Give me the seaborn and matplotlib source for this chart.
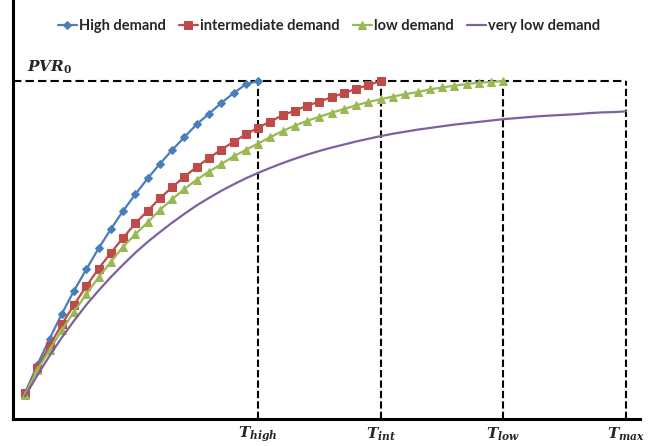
import numpy as np
import pandas as pd
import matplotlib
matplotlib.use("Agg")
import matplotlib.pyplot as plt
import seaborn as sns

# Present value of revenue (fraction of PVR_0) against period index
high_demand = [0.076, 0.160, 0.237, 0.311, 0.380, 0.443, 0.505, 0.562, 0.616, 0.665,
               0.712, 0.755, 0.796, 0.834, 0.872, 0.903, 0.935, 0.964, 0.990, 1.000]
intermediate_demand = [0.076, 0.150, 0.217, 0.280, 0.338, 0.393, 0.445, 0.492, 0.536, 0.579,
                       0.616, 0.653, 0.686, 0.717, 0.746, 0.772, 0.797, 0.820, 0.842, 0.862,
                       0.880, 0.899, 0.912, 0.927, 0.939, 0.952, 0.964, 0.977, 0.988, 1.000]
low_demand = [0.072, 0.145, 0.204, 0.263, 0.317, 0.370, 0.419, 0.465, 0.510, 0.547,
              0.582, 0.619, 0.650, 0.681, 0.708, 0.732, 0.754, 0.777, 0.796, 0.815,
              0.834, 0.852, 0.868, 0.882, 0.894, 0.906, 0.917, 0.928, 0.938, 0.946,
              0.954, 0.961, 0.967, 0.975, 0.981, 0.986, 0.991, 0.995, 0.997, 1.000]
very_low_demand = [0.067, 0.129, 0.187, 0.241, 0.291, 0.338, 0.380, 0.420, 0.457, 0.492,
                   0.524, 0.553, 0.581, 0.607, 0.632, 0.654, 0.675, 0.694, 0.712, 0.728,
                   0.743, 0.757, 0.770, 0.782, 0.793, 0.803, 0.812, 0.821, 0.829, 0.837,
                   0.844, 0.850, 0.856, 0.861, 0.866, 0.871, 0.875, 0.879, 0.883, 0.887,
                   0.890, 0.893, 0.896, 0.898, 0.900, 0.902, 0.905, 0.907, 0.908, 0.910]

series_names = ["High demand", "intermediate demand", "low demand", "very low demand"]
series_values = [high_demand, intermediate_demand, low_demand, very_low_demand]
series_colors = ["#4A7EBB", "#BE4B48", "#98B954", "#7D60A0"]
series_markers = ["D", "s", "^", None]
series_msizes = [4.0, 5.3, 5.3, 0]

pvr0 = 1.0
horizon_labels = [r"$\mathbfit{T}_{\mathbfit{high}}$", r"$\mathbfit{T}_{\mathbfit{int}}$",
                  r"$\mathbfit{T}_{\mathbfit{low}}$", r"$\mathbfit{T}_{\mathbfit{max}}$"]

sns.set_style("white")
plt.rcParams["mathtext.fontset"] = "dejavuserif"
plt.rcParams["font.family"] = ["Lato", "DejaVu Sans"]

fig = plt.figure(figsize=(6.58, 4.46), dpi=100)
ax = fig.add_axes([13 / 658, 27 / 446, 627 / 658, 419 / 446])

for name, vals, col, mk, ms in zip(series_names, series_values, series_colors,
                                   series_markers, series_msizes):
    df = pd.DataFrame({"t": np.arange(len(vals)), "pvr": vals})
    kw = dict(marker=mk, markersize=ms, markeredgecolor=col, markerfacecolor=col) if mk else {}
    sns.lineplot(data=df, x="t", y="pvr", ax=ax, color=col, linewidth=1.6,
                 label=name, **kw)

# Horizon of each demand scenario: last period of its series
horizons = [len(v) - 1 for v in series_values]

ax.set_xlim(-0.98, 50.14)
ax.set_ylim(0, 1.2396)

ax.plot([ax.get_xlim()[0], horizons[-1]], [pvr0, pvr0], color="black",
        linestyle=(0, (4, 2)), linewidth=1.5, zorder=1)
for h, lab in zip(horizons, horizon_labels):
    ax.plot([h, h], [0, pvr0], color="black", linestyle=(0, (3.5, 1.5)),
            linewidth=1.5, zorder=1)
    ax.text(h, -0.045, lab, ha="center", va="center", fontsize=11, clip_on=False)

ax.text(0.2, pvr0 + 0.04, r"$\mathbfit{PVR}_{\mathbf{0}}$", ha="left", va="center",
        fontsize=11)

ax.set_xticks([])
ax.set_yticks([])
ax.set_xlabel("")
ax.set_ylabel("")
for side in ["top", "right"]:
    ax.spines[side].set_visible(False)
for side in ["left", "bottom"]:
    ax.spines[side].set_color("black")
    ax.spines[side].set_linewidth(2.2)

ax.legend(loc="center", bbox_to_anchor=(0.504, 0.938), ncol=4, frameon=False,
          handlelength=1.3, handletextpad=0.15, columnspacing=0.9,
          prop={"weight": "bold", "size": 10.5})

fig.savefig("out.png", dpi=100)
